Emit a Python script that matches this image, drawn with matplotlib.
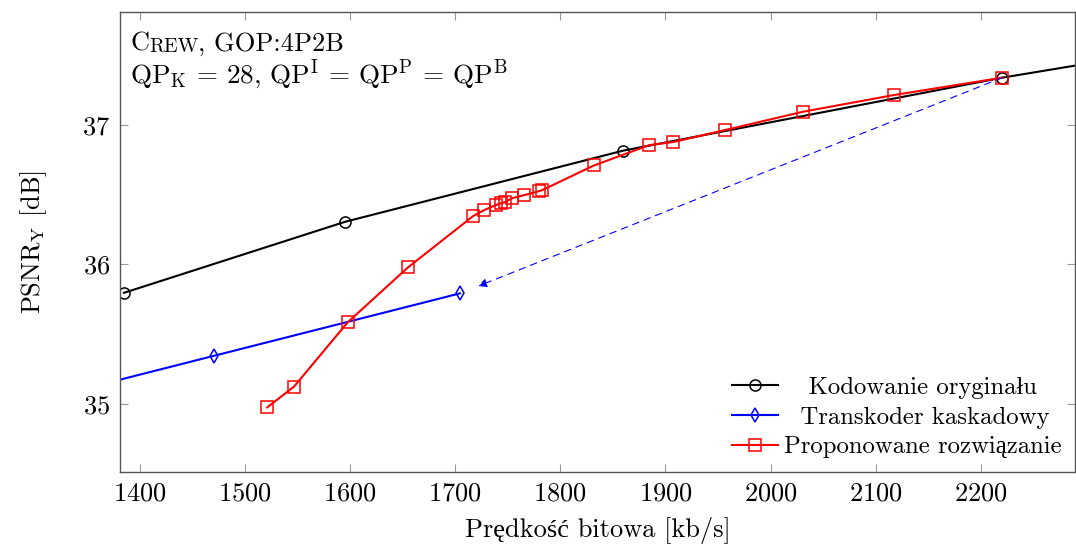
import numpy as np
import matplotlib
matplotlib.use("Agg")
import matplotlib.pyplot as plt

plt.rcParams['font.family'] = ['cmr10', 'Liberation Serif']
plt.rcParams['mathtext.fontset'] = 'cm'
plt.rcParams['axes.formatter.use_mathtext'] = True

# ============ Data ===================
# Kodowanie oryginalu
orig_rate = [1385.1, 1595.5, 1859.6, 2220.3, 2500.0]
orig_psnr = [35.796, 36.306, 36.816, 37.340, 37.690]

# Transkoder kaskadowy
casc_rate = [1260.0, 1470.7, 1704.6]
casc_psnr = [34.940, 35.344, 35.792]

# Proponowane rozwiazanie
prop_rate = [1521.3, 1546.7, 1597.8, 1655.1, 1717.2, 1727.7, 1738.8, 1743.6,
             1747.4, 1753.7, 1765.7, 1780.0, 1782.3, 1832.0, 1884.6, 1907.4,
             1956.6, 2030.5, 2117.0, 2220.3]
prop_psnr = [34.974, 35.122, 35.584, 35.978, 36.347, 36.390, 36.426, 36.438,
             36.447, 36.474, 36.497, 36.526, 36.531, 36.710, 36.856, 36.878,
             36.964, 37.095, 37.215, 37.340]

arrow_from = (2220.3, 37.340)
arrow_to = (1722.0, 35.844)

xticks = [1400, 1500, 1600, 1700, 1800, 1900, 2000, 2100, 2200]
yticks = [35, 36, 37]
# =====================================

fig = plt.figure(figsize=(10.76, 5.54), dpi=100)
ax = fig.add_axes([0.1115, 0.148, 0.8875, 0.830])

ax.plot(orig_rate, orig_psnr, color='black', lw=1.5, marker='o', ms=8,
        mfc='none', mew=1.1, label='   Kodowanie oryginału')
ax.plot(casc_rate, casc_psnr, color='blue', lw=1.5, marker='d', ms=7.5,
        mfc='none', mew=1.1, label='  Transkoder kaskadowy')
ax.plot(prop_rate, prop_psnr, color='red', lw=1.5, marker='s', ms=9,
        mfc='none', mew=1.1, label='Proponowane rozwiązanie')

ax.annotate('', xy=arrow_to, xytext=arrow_from,
            arrowprops=dict(arrowstyle='-|>', color='blue', lw=0.8,
                            linestyle=(0, (6, 5)), mutation_scale=13,
                            shrinkA=0, shrinkB=0))

ax.set_xlim(1381.3, 2289.4)
ax.set_ylim(34.51, 37.81)
ax.set_xticks(xticks)
ax.set_yticks(yticks)
ax.tick_params(direction='in', length=6, color='#999999', labelsize=19,
               top=True, right=True, pad=7)
for sp in ax.spines.values():
    sp.set_color('#555555')
    sp.set_linewidth(1.0)

ax.set_xlabel('Prędkość bitowa [kb/s]', fontsize=19, labelpad=8)
ax.set_ylabel(r'PSNR$_\mathrm{Y}$ [dB]', fontsize=19, labelpad=24)

# small caps "Crew" built from pieces
c = ax.text(0.0105, 0.905, 'C', transform=ax.transAxes, fontsize=19,
            va='bottom')
r = ax.annotate('REW', xy=(1, 0), xycoords=c, fontsize=14.5, va='bottom')
ax.annotate(', GOP:4P2B', xy=(1, 0), xycoords=r, fontsize=19,
            va='bottom')
ax.text(0.0105, 0.826,
        r'QP$_\mathrm{K}$ = 28, QP$^\mathrm{I}$ = QP$^\mathrm{P}$ = QP$^\mathrm{B}$',
        transform=ax.transAxes, fontsize=19.5, va='bottom')

ax.legend(loc='lower right', fontsize=17.8, frameon=False,
          handlelength=1.85, handletextpad=0.25, labelspacing=0.3,
          borderaxespad=0.15)

plt.savefig('out.png', dpi=100)
